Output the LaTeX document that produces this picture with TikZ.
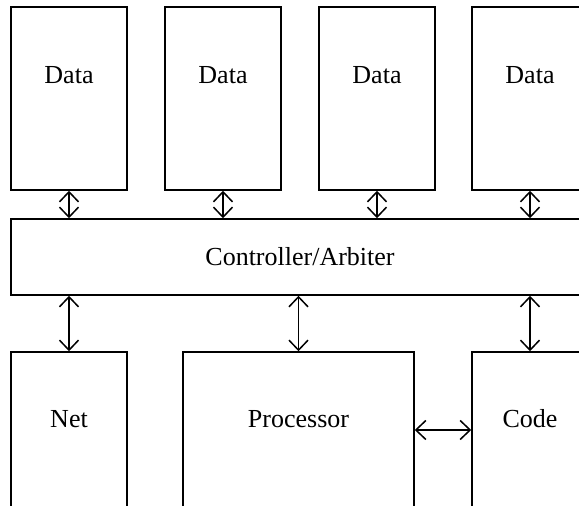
\documentclass[tikz,border=0pt]{standalone}
\usepackage{fontspec}
\setmainfont{Liberation Serif}
\usetikzlibrary{arrows.meta, positioning}

\begin{document}
\begin{tikzpicture}[
  x=1pt, y=1pt,
  unit/.style={draw, line width=1.5pt, inner sep=0pt, align=center, font=\fontsize{26}{31}\selectfont},
  databox/.style={unit, minimum width=116pt, minimum height=183pt, text depth=47pt},
  lowbox/.style={unit, minimum height=156pt, text depth=23pt},
  link/.style={{Straight Barb[length=10pt, width=19pt]}-{Straight Barb[length=10pt, width=19pt]}, line width=1.5pt},
]

% 枠
\useasboundingbox (0,0) rectangle (579,506);
\clip (0,0) rectangle (579,506);

% データ
\node[databox] (data1) at (69, 407.5) {Data};
\node[databox] (data2) at (223, 407.5) {Data};
\node[databox] (data3) at (377, 407.5) {Data};
\node[databox] (data4) at (530, 407.5) {Data};

% コントローラ
\node[unit, minimum width=578pt, minimum height=76pt] (ctrl) at (300, 249) {Controller/Arbiter};

% 下段
\node[lowbox, minimum width=116pt] (net) at (69, 76) {Net};
\node[lowbox, minimum width=231pt] (proc) at (298.5, 76) {Processor};
\node[lowbox, minimum width=116pt] (code) at (530, 76) {Code};

% 接続
\foreach \d in {data1, data2, data3, data4} {
  \draw[link] (\d.south) -- (\d.south |- ctrl.north);
}
\foreach \b in {net, proc, code} {
  \draw[link] (\b.north |- ctrl.south) -- (\b.north);
}
\draw[link] (proc.east) -- (code.west);

\end{tikzpicture}
\end{document}
